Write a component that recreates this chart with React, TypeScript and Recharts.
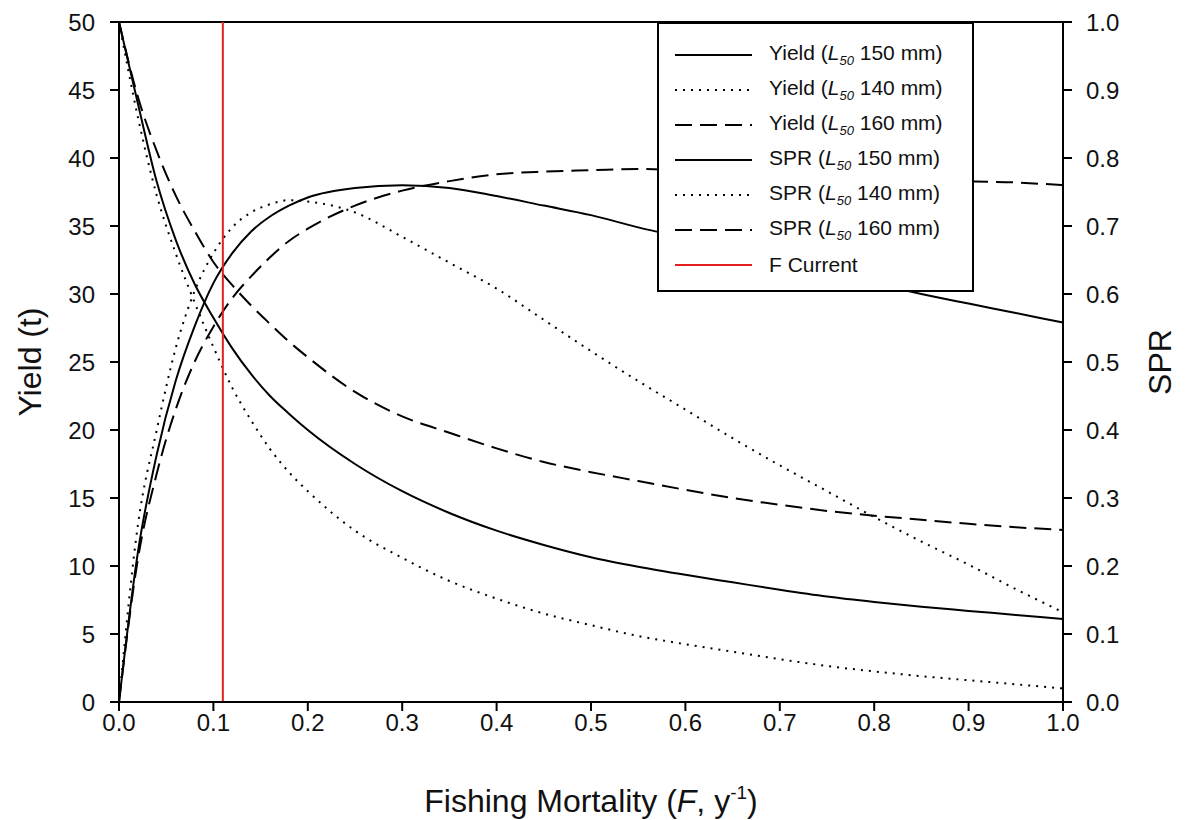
import { Label, Legend, Line, LineChart, ReferenceLine, XAxis, YAxis } from 'recharts';

document.body.style.margin = '0';

// fishing mortality F (1/y)
const fishingMortality = [
  0, 0.02, 0.04, 0.06, 0.08, 0.1, 0.12, 0.14, 0.16, 0.18, 0.2, 0.25, 0.3, 0.35, 0.4, 0.45, 0.5, 0.55,
  0.6, 0.65, 0.7, 0.75, 0.8, 0.85, 0.9, 0.95, 1.0,
];

// yield (t)
const yield150 = [
  0, 11.0, 18.2, 23.6, 27.6, 30.8, 33.0, 34.6, 35.7, 36.5, 37.1, 37.8, 38.0, 37.8, 37.2, 36.5, 35.8, 34.9,
  34.1, 33.3, 32.5, 31.7, 30.8, 30.0, 29.3, 28.6, 27.9,
];
const yield140 = [
  0, 13.0, 20.0, 26.0, 30.2, 33.0, 34.9, 36.0, 36.6, 36.9, 36.8, 36.0, 34.2, 32.3, 30.4, 28.1, 25.8, 23.6,
  21.5, 19.4, 17.4, 15.5, 13.6, 11.8, 10.1, 8.3, 6.6,
];
const yield160 = [
  0, 10.5, 16.8, 21.5, 25.0, 27.6, 29.7, 31.3, 32.7, 33.9, 34.8, 36.5, 37.6, 38.3, 38.8, 39.0, 39.1, 39.2,
  39.1, 39.0, 38.9, 38.8, 38.7, 38.5, 38.3, 38.2, 38.0,
];

// spawning potential ratio
const spr150 = [
  1.0, 0.88, 0.765, 0.68, 0.615, 0.565, 0.52, 0.482, 0.45, 0.424, 0.4, 0.35, 0.31, 0.278, 0.252, 0.231,
  0.213, 0.199, 0.187, 0.176, 0.165, 0.155, 0.147, 0.14, 0.134, 0.128, 0.122,
];
const spr140 = [
  1.0, 0.86, 0.745, 0.66, 0.588, 0.522, 0.462, 0.414, 0.372, 0.338, 0.31, 0.252, 0.212, 0.178, 0.152, 0.13,
  0.113, 0.097, 0.085, 0.074, 0.063, 0.053, 0.045, 0.038, 0.032, 0.026, 0.02,
];
const spr160 = [
  1.0, 0.89, 0.81, 0.745, 0.693, 0.647, 0.613, 0.583, 0.556, 0.53, 0.507, 0.456, 0.42, 0.396, 0.373,
  0.353, 0.338, 0.325, 0.312, 0.3, 0.29, 0.281, 0.274, 0.268, 0.262, 0.257, 0.253,
];

const fCurrent = 0.11;

const xTicks = [0, 0.1, 0.2, 0.3, 0.4, 0.5, 0.6, 0.7, 0.8, 0.9, 1.0];
const yieldTicks = [0, 5, 10, 15, 20, 25, 30, 35, 40, 45, 50];
const sprTicks = [0, 0.1, 0.2, 0.3, 0.4, 0.5, 0.6, 0.7, 0.8, 0.9, 1.0];

const data = fishingMortality.map((f, i) => ({
  f,
  y150: yield150[i],
  y140: yield140[i],
  y160: yield160[i],
  s150: spr150[i],
  s140: spr140[i],
  s160: spr160[i],
}));

const FONT = '"Liberation Sans", Arial, sans-serif';
const RED = '#e3201c';
const DOTTED = '2 6';
const DASHED = '17 8';

const legendItems = [
  { name: 'Yield', size: '150', dash: undefined },
  { name: 'Yield', size: '140', dash: DOTTED },
  { name: 'Yield', size: '160', dash: DASHED },
  { name: 'SPR', size: '150', dash: undefined },
  { name: 'SPR', size: '140', dash: DOTTED },
  { name: 'SPR', size: '160', dash: DASHED },
];

function LegendBox() {
  const row = { display: 'flex', alignItems: 'center', height: 35 } as const;
  const swatch = { marginLeft: 16, marginRight: 17, flex: 'none' } as const;
  return (
    <div
      style={{
        width: 317,
        height: 270,
        boxSizing: 'border-box',
        border: '2px solid #000',
        background: '#fff',
        paddingTop: 13,
        fontFamily: FONT,
        fontSize: 21,
        color: '#111',
        lineHeight: 1,
        whiteSpace: 'nowrap',
      }}
    >
      {legendItems.map((it, i) => (
        <div key={i} style={row}>
          <svg width={77} height={10} style={swatch}>
            <line x1={0} y1={5} x2={77} y2={5} stroke="#000" strokeWidth={2} strokeDasharray={it.dash} />
          </svg>
          <span>
            {it.name} (<i>L</i>
            <sub style={{ fontSize: 13, fontStyle: 'italic', verticalAlign: '-5px' }}>50</sub> {it.size} mm)
          </span>
        </div>
      ))}
      <div style={row}>
        <svg width={77} height={10} style={swatch}>
          <line x1={0} y1={5} x2={77} y2={5} stroke={RED} strokeWidth={2} />
        </svg>
        <span>F Current</span>
      </div>
    </div>
  );
}

const tickStyle = { fontSize: 24, fill: '#111', fontFamily: FONT };

const verticalTitle = (text: string, dx: number) =>
  ({ viewBox }: any) => {
    const cx = viewBox.x + dx;
    const cy = viewBox.y + viewBox.height / 2;
    return (
      <text
        x={cx}
        y={cy}
        transform={`rotate(-90, ${cx}, ${cy})`}
        textAnchor="middle"
        dominantBaseline="central"
        fontSize={32}
        fontFamily={FONT}
        fill="#111"
      >
        {text}
      </text>
    );
  };

export default function App() {
  return (
    <LineChart
      width={1187}
      height={820}
      data={data}
      margin={{ top: 22, right: 24, bottom: 18, left: 19 }}
      style={{ background: '#fff' }}
    >
      <XAxis
        dataKey="f"
        type="number"
        domain={[0, 1]}
        ticks={xTicks}
        tickFormatter={(v: number) => v.toFixed(1)}
        height={100}
        stroke="#000"
        strokeWidth={2}
        tickSize={9}
        tickMargin={3}
        tick={tickStyle}
        interval={0}
      >
        <Label
          content={({ viewBox }: any) => (
            <text
              x={viewBox.x + viewBox.width / 2}
              y={viewBox.y + 110}
              textAnchor="middle"
              fontSize={32}
              fontFamily={FONT}
              fill="#111"
            >
              Fishing Mortality (<tspan fontStyle="italic">F</tspan>, y
              <tspan dy={-13} fontSize={19}>-1</tspan>
              <tspan dy={13}>)</tspan>
            </text>
          )}
        />
      </XAxis>
      <YAxis
        yAxisId="left"
        domain={[0, 50]}
        ticks={yieldTicks}
        width={100}
        stroke="#000"
        strokeWidth={2}
        tickSize={9}
        tickMargin={15}
        tick={tickStyle}
        interval={0}
      >
        <Label content={verticalTitle('Yield (t)', 11)} />
      </YAxis>
      <YAxis
        yAxisId="right"
        orientation="right"
        domain={[0, 1]}
        ticks={sprTicks}
        tickFormatter={(v: number) => v.toFixed(1)}
        width={100}
        stroke="#000"
        strokeWidth={2}
        tickSize={9}
        tickMargin={14}
        tick={tickStyle}
        interval={0}
      >
        <Label content={verticalTitle('SPR', 97)} />
      </YAxis>

      <ReferenceLine yAxisId="left" y={50} stroke="#000" strokeWidth={2} />

      <Line yAxisId="left" type="monotone" dataKey="y150" stroke="#000" strokeWidth={2} dot={false} isAnimationActive={false} />
      <Line yAxisId="left" type="monotone" dataKey="y140" stroke="#000" strokeWidth={2} strokeDasharray={DOTTED} dot={false} isAnimationActive={false} />
      <Line yAxisId="left" type="monotone" dataKey="y160" stroke="#000" strokeWidth={2} strokeDasharray={DASHED} dot={false} isAnimationActive={false} />
      <Line yAxisId="right" type="monotone" dataKey="s150" stroke="#000" strokeWidth={2} dot={false} isAnimationActive={false} />
      <Line yAxisId="right" type="monotone" dataKey="s140" stroke="#000" strokeWidth={2} strokeDasharray={DOTTED} dot={false} isAnimationActive={false} />
      <Line yAxisId="right" type="monotone" dataKey="s160" stroke="#000" strokeWidth={2} strokeDasharray={DASHED} dot={false} isAnimationActive={false} />

      <ReferenceLine yAxisId="left" x={fCurrent} stroke={RED} strokeWidth={2} />

      <Legend
        layout="vertical"
        align="center"
        verticalAlign="middle"
        content={() => <LegendBox />}
        wrapperStyle={{ top: 22, left: 657, width: 317, height: 270 }}
      />
    </LineChart>
  );
}
